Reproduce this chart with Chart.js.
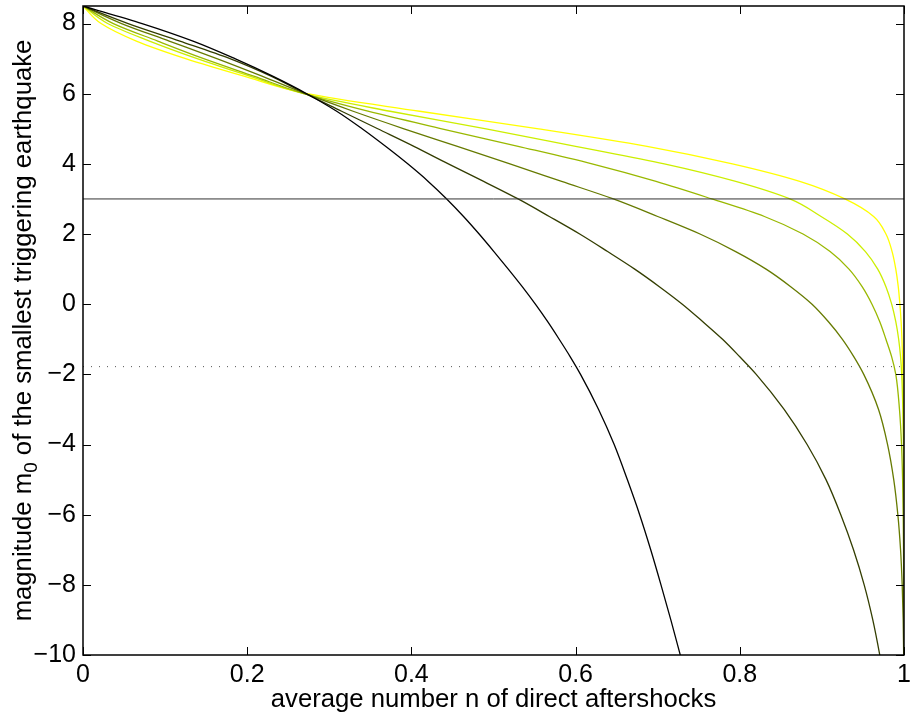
<!DOCTYPE html>
<html>
<head>
<meta charset="utf-8">
<script src="https://cdn.jsdelivr.net/npm/chart.js@4.4.1/dist/chart.umd.min.js"></script>
<style>
  html, body { margin: 0; padding: 0; background: #ffffff; }
  canvas { display: block; }
</style>
</head>
<body>
<canvas id="c" width="919" height="719"></canvas>
<script>
// ---- tick values ----
const xTicks = [0, 0.2, 0.4, 0.6, 0.8, 1];
const yTicks = [-10, -8, -6, -4, -2, 0, 2, 4, 6, 8];

// ---- reference levels ----
const solidLevel = 3;
const dottedLevel = -1.78;

// ---- magnitude levels m0 (shared) and n at those levels ----
const m0Levels = [8.5, 8, 7.5, 7, 6.5, 6, 5.5, 5, 4.5, 4, 3.5, 3, 2.5, 2, 1.5, 1, 0.5, 0, -0.5, -1, -1.5, -2, -3, -4, -5, -6, -7, -8, -9, -10, -11];

const n1 = [0, 0.072, 0.134, 0.185, 0.231, 0.2725, 0.309, 0.340, 0.3685, 0.3955, 0.4205, 0.443, 0.4635, 0.4825, 0.5005, 0.518, 0.535, 0.551, 0.566, 0.580, 0.5935, 0.606, 0.628, 0.647, 0.663, 0.678, 0.6915, 0.704, 0.716, 0.7275, 0.739];
const n2 = [0, 0.055, 0.118, 0.179, 0.229, 0.271, 0.315, 0.359, 0.403, 0.445, 0.488, 0.530, 0.568, 0.605, 0.639, 0.672, 0.702, 0.730, 0.755, 0.779, 0.800, 0.820, 0.854, 0.882, 0.905, 0.923, 0.9385, 0.9515, 0.962, 0.9705, 0.978];
const n3 = [0, 0.047, 0.105, 0.163, 0.218, 0.271, 0.329, 0.391, 0.456, 0.520, 0.583, 0.646, 0.700, 0.7515, 0.795, 0.832, 0.862, 0.888, 0.908, 0.925, 0.939, 0.951, 0.969, 0.980, 0.9875, 0.9925, 0.9958, 0.9978, 0.999, 0.9996, 1.0];
const n4 = [0, 0.037, 0.091, 0.147, 0.208, 0.269, 0.347, 0.437, 0.530, 0.620, 0.698, 0.766, 0.830, 0.877, 0.910, 0.933, 0.949, 0.961, 0.9705, 0.978, 0.985, 0.990, 0.9945, 0.997, 0.9983, 0.999, 0.9994, 0.9997, 0.9999, 1.0, 1.0];
const n5 = [0, 0.030, 0.081, 0.139, 0.203, 0.269, 0.374, 0.491, 0.600, 0.708, 0.795, 0.861, 0.899, 0.931, 0.953, 0.968, 0.978, 0.985, 0.990, 0.9935, 0.9958, 0.9972, 0.9986, 0.9993, 0.9997, 0.9999, 1.0, 1.0, 1.0, 1.0, 1.0];
const n6 = [0, 0.022, 0.065, 0.125, 0.196, 0.273, 0.410, 0.555, 0.687, 0.791, 0.873, 0.928, 0.963, 0.978, 0.9855, 0.990, 0.993, 0.995, 0.9965, 0.9975, 0.9982, 0.9987, 0.9993, 0.9996, 0.9998, 0.9999, 1.0, 1.0, 1.0, 1.0, 1.0];

const curves = [n1, n2, n3, n4, n5, n6];
const curveColors = ['#000000', '#333d00', '#667a00', '#99b800', '#ccee00', '#ffff00'];

const xTitle = 'average number n of direct aftershocks';
const yTitleParts = ['magnitude m', '0', ' of the smallest triggering earthquake'];

const FONT = "'Liberation Sans', Arial, Helvetica, sans-serif";

const datasets = [];
datasets.push({
  data: [{ x: 0, y: solidLevel }, { x: 1, y: solidLevel }],
  borderColor: '#333333', borderWidth: 1, pointRadius: 0, tension: 0
});
datasets.push({
  data: [{ x: 0, y: dottedLevel }, { x: 1, y: dottedLevel }],
  borderColor: '#555555', borderWidth: 1, borderDash: [1, 7], pointRadius: 0, tension: 0
});
curves.forEach((n, i) => {
  datasets.push({
    data: m0Levels.map((m, k) => ({ x: n[k], y: m })),
    borderColor: curveColors[i],
    borderWidth: 1.3,
    pointRadius: 0,
    cubicInterpolationMode: 'monotone'
  });
});

const framePlugin = {
  id: 'frame',
  afterDatasetsDraw(chart) {
    const { ctx, chartArea: a, scales: { x, y } } = chart;
    ctx.save();
    ctx.strokeStyle = '#000';
    ctx.lineWidth = 1;
    const L = 8;
    ctx.beginPath();
    xTicks.forEach(v => {
      const px = Math.round(x.getPixelForValue(v)) + 0.5;
      ctx.moveTo(px, a.bottom); ctx.lineTo(px, a.bottom - L);
      ctx.moveTo(px, a.top); ctx.lineTo(px, a.top + L);
    });
    yTicks.forEach(v => {
      const py = Math.round(y.getPixelForValue(v)) + 0.5;
      ctx.moveTo(a.left, py); ctx.lineTo(a.left + L, py);
      ctx.moveTo(a.right, py); ctx.lineTo(a.right - L, py);
    });
    ctx.stroke();
    ctx.lineWidth = 1.5;
    ctx.strokeRect(a.left, a.top, a.right - a.left, a.bottom - a.top);
    ctx.restore();
  },
  afterDraw(chart) {
    const { ctx, chartArea: a } = chart;
    const big = "25.7px " + FONT, small = "19px " + FONT;
    ctx.save();
    ctx.fillStyle = '#000';
    ctx.textBaseline = 'alphabetic';
    ctx.textAlign = 'left';
    ctx.font = big; const w0 = ctx.measureText(yTitleParts[0]).width;
    const w2 = ctx.measureText(yTitleParts[2]).width;
    ctx.font = small; const w1 = ctx.measureText(yTitleParts[1]).width;
    const total = w0 + w1 + w2;
    const cy = (a.top + a.bottom) / 2;
    ctx.translate(31, cy);
    ctx.rotate(-Math.PI / 2);
    let xx = -total / 2;
    ctx.font = big; ctx.fillText(yTitleParts[0], xx, 0); xx += w0;
    ctx.font = small; ctx.fillText(yTitleParts[1], xx, 6); xx += w1;
    ctx.font = big; ctx.fillText(yTitleParts[2], xx, 0);
    ctx.restore();
  }
};

new Chart(document.getElementById('c'), {
  type: 'line',
  data: { datasets: datasets },
  options: {
    indexAxis: 'y',
    responsive: false,
    animation: false,
    devicePixelRatio: 1,
    layout: { padding: { left: 0, right: 15, top: 6, bottom: 0 } },
    plugins: { legend: { display: false }, tooltip: { enabled: false } },
    scales: {
      x: {
        type: 'linear', min: 0, max: 1,
        grid: { display: false, drawTicks: false },
        border: { display: false },
        afterBuildTicks: s => { s.ticks = xTicks.map(v => ({ value: v })); },
        afterFit: s => { s.height = 64; s.paddingLeft = 0; s.paddingRight = 0; },
        ticks: {
          padding: 5, color: '#000', maxRotation: 0, autoSkip: false,
          font: { family: FONT, size: 25 },
          callback: v => String(v).replace('-', '\u2212')
        },
        title: { display: true, text: xTitle, color: '#000', font: { family: FONT, size: 25.7 }, padding: { top: 0, bottom: 4 } }
      },
      y: {
        type: 'linear', min: -10, max: 8.5,
        grid: { display: false, drawTicks: false },
        border: { display: false },
        afterBuildTicks: s => { s.ticks = yTicks.map(v => ({ value: v })); },
        afterFit: s => { s.width = 83; s.paddingTop = 0; s.paddingBottom = 0; },
        ticks: {
          padding: 7, color: '#000', autoSkip: false,
          font: { family: FONT, size: 25 },
          callback: v => String(v).replace('-', '\u2212')
        },
        title: { display: false }
      }
    }
  },
  plugins: [framePlugin]
});
</script>
</body>
</html>
